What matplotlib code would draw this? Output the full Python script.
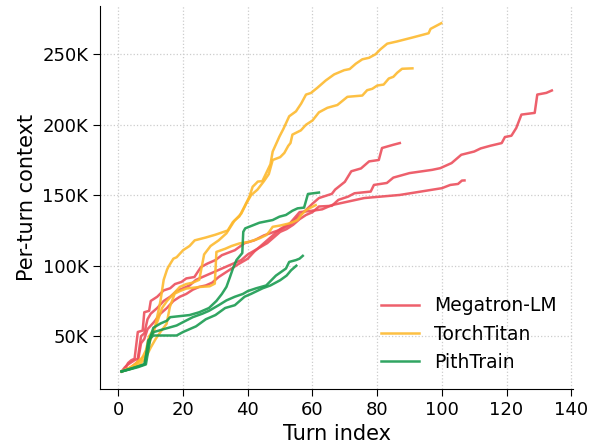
import matplotlib
matplotlib.use("Agg")
import matplotlib.pyplot as plt
from matplotlib.ticker import FuncFormatter

# per-turn context (in K tokens), three runs per framework
meg_a_x = [1, 2, 3, 4, 5, 6, 7.5, 8, 9.5, 10, 12, 14, 16, 17.5, 19.5, 21, 23.5, 25.5, 27.5, 30, 32, 36, 39, 42, 45,
           50, 53, 55, 58, 60, 62, 66, 67, 70, 72, 75, 77.5, 80.5, 81.5, 85, 87]
meg_a_y = [25, 27, 31, 33, 34, 53, 54, 67, 68, 75, 78, 82.5, 84, 87, 88.5, 91, 92, 99, 101.5, 104, 107.5, 111, 116, 118, 121.5,
           125.5, 129, 133.5, 139.5, 144, 148, 151, 154, 159.5, 167, 169, 174, 175, 183.5, 185.8, 187]

meg_b_x = [1, 2, 3, 5, 6, 7, 8, 9, 10, 12, 14, 16, 18, 20, 22, 24, 26, 28, 30, 33, 36, 38, 40, 43, 46, 48, 50, 52, 54, 56,
           58, 60, 62, 66, 68, 71, 73, 78, 79, 83, 85, 90, 97, 99.5, 103, 106, 110, 112, 115, 118.5, 119.5, 121.5, 123,
           124.6, 128.7, 129.5, 132.3, 134]
meg_b_y = [25, 28, 30, 33, 34, 50, 52, 62, 66, 70, 75, 78, 82, 84, 86, 90, 92, 94, 96, 99, 102, 104, 108, 112, 116, 120,
           124, 126, 129, 133, 136, 138, 142, 142.5, 146.7, 149, 151.4, 152.6, 157.3, 158.7, 162.5, 165.7, 168, 169.2,
           172.8, 178.7, 181, 183.2, 185.1, 187, 191.3, 192.2, 197.7, 207.2, 208.4, 221.4, 222.6, 224.3]

meg_c_x = [1, 2, 4, 6, 7, 8, 9, 11, 13, 15, 17, 19, 21, 23, 25, 27, 29, 31, 33, 35, 37, 40, 42, 44, 46, 48, 50, 53, 56,
           60, 63, 66, 76, 87, 100, 102.6, 105, 106.2, 107]
meg_c_y = [25, 26, 28, 32, 45, 48, 55, 60, 66, 70, 75, 78, 80, 83, 85, 86, 88, 92, 95, 98, 101, 105, 110, 114, 118, 122,
           126, 130, 138, 139, 140, 143, 148, 150.2, 155, 157.3, 158, 160.4, 160.5]

tt_a_x = [1, 4, 6, 8, 9.5, 11.3, 13, 14, 15, 15.4, 17, 18, 20, 22, 23.6, 27, 30, 33.8, 35.4, 37.4, 39, 40.5, 41.5, 42.6,
          43.1, 44.5, 45.7, 47, 47.7, 49.8, 51, 52.8, 54.9, 56.5, 58, 59.5, 61.5, 64.1, 66.7, 69.8, 71.5, 73.4, 75.4,
          77.5, 79.5, 81, 83.1, 86, 90.8, 95.9, 96.5, 99.8]
tt_a_y = [25, 27, 32, 36, 45, 56, 75, 90, 97, 99, 105, 106, 111, 114, 118, 120, 122, 125, 131, 135, 142, 149, 156, 158.5,
          159.7, 160, 165.7, 172, 181, 191.7, 197, 206, 209.5, 215, 221.4, 222.5, 226.2, 231.4, 235.7, 238.7, 239.5,
          243.3, 246.4, 247.5, 250, 253.5, 257.5, 259, 261.8, 264.9, 268, 272]

tt_b_x = [1, 3, 5, 7, 8.5, 9.5, 11, 12, 13.5, 15, 17, 19, 21, 23, 25, 26.5, 28.5, 31, 33.4, 35.9, 38, 39.5, 41, 43, 45,
          46.5, 47.7, 50, 51.3, 52.5, 53.2, 53.8, 56.4, 58, 60, 62, 64.6, 67.7, 70.8, 75.4, 76.9, 78.5, 80, 82, 83.6,
          85, 86.2, 87.7, 90.9]
tt_b_y = [25, 27, 30, 33, 40, 50, 55, 60, 70, 75, 80, 85, 87, 88, 90, 108, 114, 118, 123, 132, 137, 144, 150, 154, 160,
          165, 175, 177, 180, 185, 187, 193, 196, 200, 203, 208.8, 212, 214, 219.8, 220.7, 224.5, 225.5, 227.8, 228.5,
          232.8, 234, 236.9, 239.7, 240]

tt_c_x = [1, 3, 5, 7, 8.5, 10, 11.5, 13, 14.9, 15.9, 17.4, 19, 21, 25, 28.2, 29.8, 30.3, 33, 35, 37.4, 40.5, 43.6, 45.7,
          46.6, 47.7, 50, 52.8, 54, 55.4, 56.5, 58, 61]
tt_c_y = [25, 27, 29, 31, 35, 42, 48, 53, 58.8, 70.7, 80.2, 82, 83.8, 84.9, 85.4, 87.3, 109.8, 112, 114, 115.8, 117,
          119.4, 121.7, 124, 127.6, 128.5, 130, 131, 132.4, 136, 139.5, 143]

pt_a_x = [1, 4, 8, 9.3, 10.8, 13, 15, 16, 22, 25, 28, 30.3, 32, 33.4, 34.5, 35.4, 36.5, 38.3, 38.6, 39.2, 43.6, 47.7,
          49.8, 51.8, 53.8, 55.4, 57.4, 58.6, 62]
pt_a_y = [25, 27, 30, 45, 56, 59, 61, 63.5, 65, 67, 70, 75, 80, 85, 92, 98, 104, 109, 124, 126.5, 130.5, 132.4, 134.8,
          136, 139, 140.7, 141.2, 150.9, 151.9]

pt_b_x = [1, 6, 8.5, 10, 11, 14, 18, 20, 23, 26, 28, 31, 33.4, 36, 38.5, 40, 42.6, 45.7, 48.7, 51.8, 52.8, 54.9, 56, 57]
pt_b_y = [25, 28, 30, 50, 53, 55, 57.6, 60, 63.5, 66, 68, 72, 75.4, 78, 80, 82, 84, 86, 93, 98, 102.7, 104, 105, 107]

pt_c_x = [1, 6.7, 8.2, 9.2, 10.8, 18, 20, 22, 24, 27, 30, 33, 36, 38, 39, 41, 44.6, 47, 50, 52, 53.4, 55]
pt_c_y = [25, 29, 30.3, 47, 50.5, 50.5, 53, 55, 57, 62, 65, 70, 72, 76, 78, 80, 84, 86, 89.7, 93, 96.8, 100]

frameworks = ["Megatron-LM", "TorchTitan", "PithTrain"]
colors = ["#ec4f5c", "#fdb92e", "#1a9b51"]
runs = [
    [(meg_a_x, meg_a_y), (meg_b_x, meg_b_y), (meg_c_x, meg_c_y)],
    [(tt_a_x, tt_a_y), (tt_b_x, tt_b_y), (tt_c_x, tt_c_y)],
    [(pt_a_x, pt_a_y), (pt_b_x, pt_b_y), (pt_c_x, pt_c_y)],
]

fig = plt.figure(figsize=(5.96, 4.48), dpi=100)
ax = fig.add_axes([0.168, 0.132, 0.794, 0.855])

for name, color, group in zip(frameworks, colors, runs):
    for i, (xs, ys) in enumerate(group):
        ax.plot(xs, [v * 1000 for v in ys], color=color, lw=1.8, alpha=0.9,
                label=name if i == 0 else None)

ax.yaxis.set_major_formatter(FuncFormatter(lambda v, _: f"{int(round(v / 1000))}K"))
ax.set_xlabel("Turn index", fontsize=15)
ax.set_ylabel("Per-turn context", fontsize=15)
ax.tick_params(labelsize=13, length=5)
ax.grid(True, linestyle=":", color="#cccccc", linewidth=0.9)
ax.spines["top"].set_visible(False)
ax.spines["right"].set_visible(False)
ax.legend(loc="lower right", fontsize=13.5, frameon=False)

fig.savefig("out.png", dpi=100)
